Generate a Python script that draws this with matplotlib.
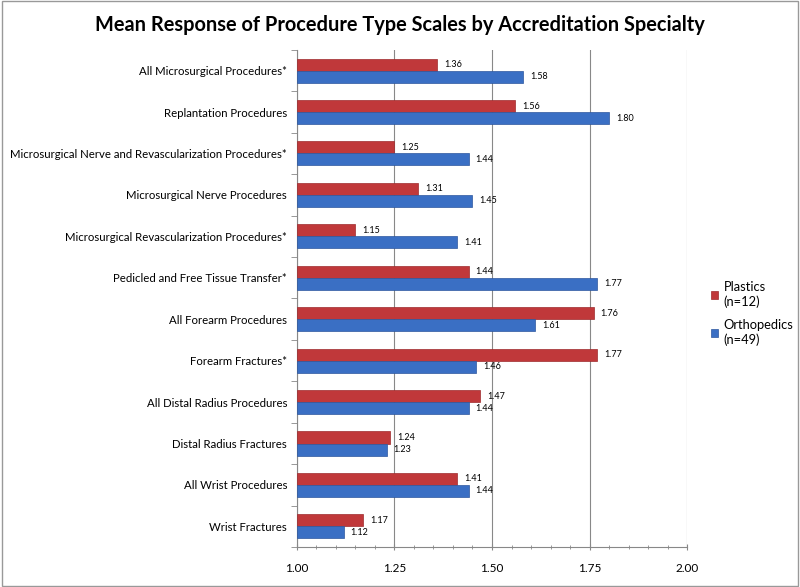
import numpy as np
import matplotlib
from matplotlib import pyplot as plt
from matplotlib.patches import Rectangle
from matplotlib.ticker import MultipleLocator

matplotlib.use('agg')

categories = ["All Microsurgical Procedures*", "Replantation Procedures",
              "Microsurgical Nerve and Revascularization Procedures*",
              "Microsurgical Nerve Procedures",
              "Microsurgical Revascularization Procedures*",
              "Pedicled and Free Tissue Transfer*", "All Forearm Procedures",
              "Forearm Fractures*", "All Distal Radius Procedures",
              "Distal Radius Fractures", "All Wrist Procedures", "Wrist Fractures"]
plastics = [1.36, 1.56, 1.25, 1.31, 1.15, 1.44, 1.76, 1.77, 1.47, 1.24, 1.41, 1.17]
orthopedics = [1.58, 1.80, 1.44, 1.45, 1.41, 1.77, 1.61, 1.46, 1.44, 1.23, 1.44, 1.12]
xticks = [1.00, 1.25, 1.50, 1.75, 2.00]

plt.rcParams['font.family'] = ['Lato', 'DejaVu Sans']

fig = plt.figure(figsize=(8, 5.87), dpi=100)
ax = fig.add_axes([0.371, 0.068, 0.488, 0.847])

red = '#C0383A'
blue = '#3A6FC4'
h = 0.29
y = np.arange(len(categories))
base = 1.0
ax.barh(y - h / 2, np.array(plastics) - base, left=base, height=h, color=red,
        edgecolor='#9E2A2C', linewidth=0.5, label='Plastics\n(n=12)', zorder=3)
ax.barh(y + h / 2, np.array(orthopedics) - base, left=base, height=h, color=blue,
        edgecolor='#2C579E', linewidth=0.5, label='Orthopedics\n(n=49)', zorder=3)

for i in range(len(categories)):
    ax.text(plastics[i] + 0.018, y[i] - h / 2, f"{plastics[i]:.2f}", va='center',
            ha='left', fontsize=6.5)
    ax.text(orthopedics[i] + 0.018, y[i] + h / 2, f"{orthopedics[i]:.2f}", va='center',
            ha='left', fontsize=6.5)

ax.set_xlim(1.0, 2.0)
ax.set_ylim(len(categories) - 0.5, -0.5)
ax.set_xticks(xticks)
ax.set_xticklabels([f"{t:.2f}" for t in xticks], fontsize=8.5)
ax.xaxis.set_minor_locator(MultipleLocator(0.05))
ax.set_yticks(y)
ax.set_yticklabels(categories, fontsize=8.2)
ax.set_yticks(np.arange(-0.5, len(categories), 1), minor=True)
ax.tick_params(axis='y', which='major', length=0, pad=7)
ax.tick_params(axis='y', which='minor', length=4, color='#888888', direction='out')
ax.tick_params(axis='x', which='major', length=5, color='#888888', direction='inout', pad=9)
ax.tick_params(axis='x', which='minor', length=3, color='#888888', direction='inout')
ax.grid(axis='x', color='#888888', linewidth=0.8, zorder=0)
for s in ['top', 'right']:
    ax.spines[s].set_visible(False)
for s in ['left', 'bottom']:
    ax.spines[s].set_color('#888888')

ax.legend(loc='center left', bbox_to_anchor=(1.03, 0.47), frameon=False, fontsize=9.3,
          handlelength=0.6, handleheight=0.6, handletextpad=0.4, labelspacing=0.9)

fig.suptitle("Mean Response of Procedure Type Scales by Accreditation Specialty",
             fontsize=14.4, fontweight='bold', y=0.975)

fig.patches.append(Rectangle((0.002, 0.002), 0.996, 0.996, transform=fig.transFigure,
                             fill=False, edgecolor='#999999', linewidth=1))

plt.savefig('out.png')
plt.close()
